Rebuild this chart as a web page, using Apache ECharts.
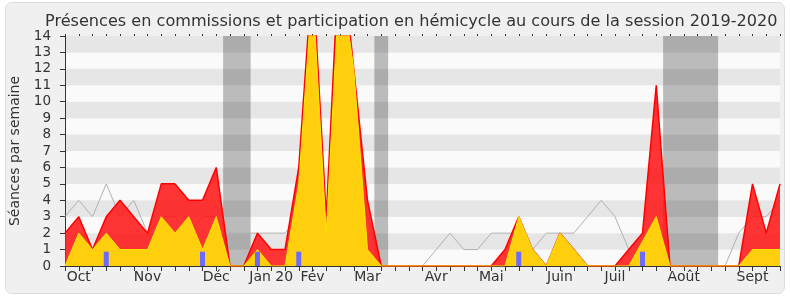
<!DOCTYPE html>
<html>
<head>
<meta charset="utf-8">
<script src="https://cdn.jsdelivr.net/npm/echarts@6/dist/echarts.min.js"></script>
<style>
html,body{margin:0;padding:0;background:#fff;}
#wrap{position:relative;width:790px;height:300px;}
#frame{position:absolute;left:5px;top:2px;width:780px;height:292px;background:#f0f0f0;border:1px solid #dcdcdc;border-radius:7px;box-sizing:border-box;}
#chart{position:absolute;left:0;top:0;width:790px;height:300px;}
</style>
</head>
<body>
<div id="wrap"><div id="frame"></div><div id="chart"></div></div>
<script>
// week index 0..52 (session 2019-2020)
const monthLabels = {1:'Oct',6:'Nov',11:'Déc',15:'Jan 20',18:'Fév',22:'Mar',27:'Avr',31:'Mai',36:'Juin',40:'Juil',45:'Août',50:'Sept'};
const yTicks = [0,1,2,3,4,5,6,7,8,9,10,11,12,13,14];
const totalPresence = [2,3,1,3,4,3,2,5,5,4,4,6,0,0,2,1,1,6,18,3,20,12,4,0,0,0,0,0,0,0,0,0,1,3,1,0,2,1,0,0,0,1,2,11,0,0,0,0,0,0,5,2,5];
const commission    = [0,2,1,2,1,1,1,3,2,3,1,3,0,0,1,0,0,5,17,2,18,12,1,0,0,0,0,0,0,0,0,0,0,3,1,0,2,1,0,0,0,0,1.5,3,0,0,0,0,0,0,1,1,1];
const median        = [3,4,3,5,3,4,2,3,3,2,3,3,2,2,2,2,2,3,2,3,6,5,3,0,0,0,0,1,2,1,1,2,2,2,1,2,2,2,3,4,3,1,2,1,0,0,0,0,0,2,3,3,4];
const questionWeeks = [3,10,14,17,33,42];
const questionValues = [0.87,0.87,0.87,0.87,0.87,0.87];
const vacations = [[11.5,13.5],[22.5,23.5],[43.5,47.5]];

const FONT = 'DejaVu Sans, sans-serif';
const pts = arr => arr.map((v,i)=>[i,v]);

const chart = echarts.init(document.getElementById('chart'), null, {renderer:'canvas'});
chart.setOption({
  backgroundColor: 'transparent',
  animation: false,
  title: {
    text: 'Présences en commissions et participation en hémicycle au cours de la session 2019-2020',
    left: 40, top: 9,
    textStyle: {fontFamily: FONT, fontSize: 16.1, fontWeight: 'normal', color: '#333'}
  },
  grid: {left: 62, right: 10, top: 36, bottom: 34},
  xAxis: [{
    type: 'value', min: 0, max: 52, interval: 1,
    axisLine: {show: true, lineStyle: {color: '#333', width: 1}},
    axisTick: {show: true, length: 5, lineStyle: {color: '#333'}},
    axisLabel: {
      show: true, margin: 4, color: '#333', fontFamily: FONT, fontSize: 14,
      showMinLabel: true, showMaxLabel: true,
      formatter: v => monthLabels[v] || ''
    },
    splitLine: {show: false}
  },{
    type: 'value', position: 'top', min: 0, max: 52, interval: 1,
    axisLine: {show: false},
    axisTick: {show: true, length: 2, lineStyle: {color: '#333'}},
    axisLabel: {show: false},
    splitLine: {show: false}
  }],
  yAxis: {
    type: 'value', min: 0, max: 14, interval: 1,
    name: 'Séances par semaine', nameLocation: 'middle', nameGap: 43,
    nameTextStyle: {fontFamily: FONT, fontSize: 14, color: '#333'},
    axisLine: {show: true, lineStyle: {color: '#333'}},
    axisTick: {show: true, length: 5, lineStyle: {color: '#333'}},
    axisLabel: {margin: 14, color: '#333', fontFamily: FONT, fontSize: 13.5,
      formatter: v => yTicks.includes(v) ? String(v) : ''},
    splitLine: {show: false},
    splitArea: {show: true, areaStyle: {color: ['#fafafa', '#e6e6e6']}}
  },
  series: [
    {
      type: 'line', data: [], z: 1, silent: true,
      markArea: {silent: true, itemStyle: {color: 'rgba(0,0,0,0.25)'},
        data: vacations.map(v => [{xAxis: v[0]}, {xAxis: v[1]}])}
    },
    {
      type: 'line', data: pts(median), symbol: 'none', z: 2,
      lineStyle: {color: '#b0b0b0', width: 1}
    },
    {
      type: 'line', data: pts(totalPresence), symbol: 'none', z: 3,
      lineStyle: {color: '#ff0000', width: 1.5},
      areaStyle: {color: 'rgba(255,20,20,0.86)', opacity: 1}
    },
    {
      type: 'line', data: pts(commission), symbol: 'none', z: 4,
      lineStyle: {color: '#f2ea00', width: 1},
      areaStyle: {color: 'rgba(255,213,12,0.96)', opacity: 1}
    },
    {
      type: 'bar', data: questionWeeks.map((w,i)=>[w, questionValues[i]]), barWidth: 5, z: 5,
      itemStyle: {color: '#6b6bff'}
    }
  ]
});
</script>
</body>
</html>
